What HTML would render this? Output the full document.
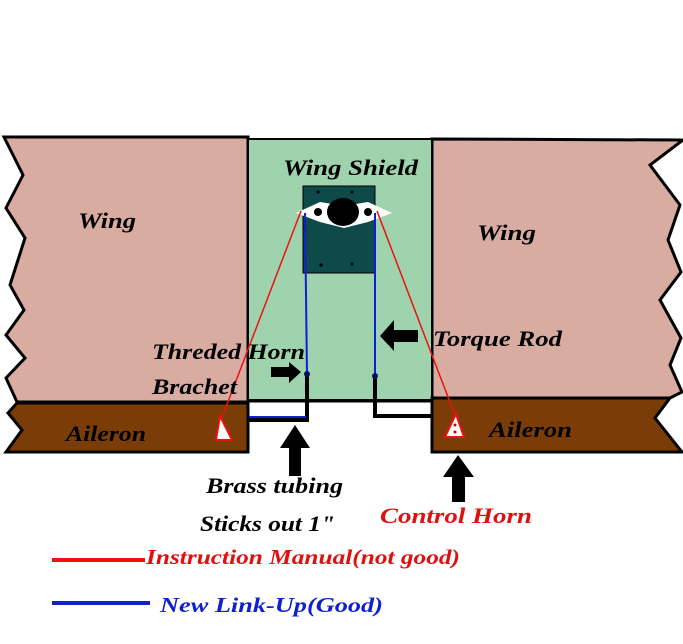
<!DOCTYPE html>
<html><head><style>
html,body{margin:0;padding:0;background:#fff;width:683px;height:644px;overflow:hidden}
text{font-family:"Liberation Serif",serif;font-style:italic;font-weight:bold}
</style></head><body>
<svg width="683" height="644" viewBox="0 0 683 644" xmlns="http://www.w3.org/2000/svg">
<polygon points="4,137 248,137 248,402 17,402 6,378 25,358 6,335 24,310 10,285 25,238 6,208 23,175" fill="#d9aca2" stroke="#000" stroke-width="3"/>
<polygon points="432,139 683,140 650,165 680,205 668,240 681,272 660,300 681,338 670,365 682,392 670,398 432,398" fill="#d9aca2" stroke="#000" stroke-width="3"/>
<rect x="248" y="139" width="184" height="261" fill="#9ed3ae" stroke="#000" stroke-width="2"/>
<rect x="248" y="400" width="184" height="20" fill="#fff"/>
<line x1="248" y1="401" x2="432" y2="401" stroke="#000" stroke-width="3"/>
<polygon points="17,403 248,403 248,452 6,452 22,430 8,413" fill="#7a3d08" stroke="#000" stroke-width="3"/>
<polygon points="432,398 670,398 655,418 682,452 432,452" fill="#7a3d08" stroke="#000" stroke-width="3"/>
<rect x="303" y="186" width="72" height="87" fill="#0e4a4a" stroke="#000" stroke-width="1"/>
<circle cx="318" cy="192" r="1.6" fill="#000"/><circle cx="352" cy="192" r="1.6" fill="#000"/>
<circle cx="321" cy="265" r="1.6" fill="#000"/><circle cx="352" cy="264" r="1.6" fill="#000"/>
<polygon points="296,213 320,202 344,206 368,202 392,213 368,222 344,228 320,222" fill="#fff"/>
<ellipse cx="343" cy="212" rx="16" ry="14" fill="#000"/>
<circle cx="318" cy="212" r="4" fill="#000"/><circle cx="368" cy="212" r="4" fill="#000"/>
<line x1="305" y1="213" x2="307" y2="375" stroke="#1020d0" stroke-width="2"/>
<line x1="375" y1="213" x2="375" y2="376" stroke="#1020d0" stroke-width="2"/>
<polyline points="307,375 307,420 249,420" fill="none" stroke="#000" stroke-width="4"/>
<line x1="249" y1="417" x2="306" y2="417" stroke="#1020d0" stroke-width="2"/>
<polyline points="375,376 375,416 432,416" fill="none" stroke="#000" stroke-width="4"/>
<circle cx="307" cy="374" r="3" fill="#001060"/><circle cx="375" cy="376" r="3" fill="#001060"/>
<line x1="301" y1="211" x2="221" y2="420" stroke="#f01010" stroke-width="1.5"/>
<line x1="377" y1="211" x2="456" y2="418" stroke="#f01010" stroke-width="1.5"/>
<polygon points="220,416 232,440 216,440" fill="#fff" stroke="#f01010" stroke-width="2"/>
<polygon points="456,414 464,437 445,437" fill="#fff" stroke="#f01010" stroke-width="2"/>
<circle cx="455" cy="425" r="1.5" fill="#c00"/><circle cx="455" cy="432" r="1.5" fill="#c00"/>
<polygon points="295,425 310,448 301,448 301,476 289,476 289,448 280,448" fill="#000"/>
<polygon points="458,455 474,477 465,477 465,502 452,502 452,477 443,477" fill="#000"/>
<polygon points="380,336 394,320 394,330 418,330 418,342 394,342 394,351" fill="#000"/>
<polygon points="301,372 289,362 289,367 271,367 271,377 289,377 289,383" fill="#000"/>
<text x="283" y="175" font-size="22" textLength="135" lengthAdjust="spacingAndGlyphs">Wing Shield</text>
<text x="78" y="228" font-size="22" textLength="58" lengthAdjust="spacingAndGlyphs">Wing</text>
<text x="477" y="240" font-size="22" textLength="59" lengthAdjust="spacingAndGlyphs">Wing</text>
<text x="152" y="359" font-size="22" textLength="153" lengthAdjust="spacingAndGlyphs">Threded Horn</text>
<text x="152" y="394" font-size="22" textLength="85" lengthAdjust="spacingAndGlyphs">Brachet</text>
<text x="433" y="346" font-size="22" textLength="129" lengthAdjust="spacingAndGlyphs">Torque Rod</text>
<text x="66" y="441" font-size="22" textLength="80" lengthAdjust="spacingAndGlyphs">Aileron</text>
<text x="489" y="437" font-size="22" textLength="83" lengthAdjust="spacingAndGlyphs">Aileron</text>
<text x="206" y="493" font-size="22" textLength="137" lengthAdjust="spacingAndGlyphs">Brass tubing</text>
<text x="200" y="531" font-size="22" textLength="135" lengthAdjust="spacingAndGlyphs">Sticks out 1"</text>
<text x="380" y="523" font-size="22" fill="#e01010" textLength="152" lengthAdjust="spacingAndGlyphs">Control  Horn</text>
<line x1="52" y1="560" x2="145" y2="560" stroke="#f01010" stroke-width="4"/>
<text x="146" y="564" font-size="21" fill="#e01010" textLength="314" lengthAdjust="spacingAndGlyphs">Instruction Manual(not good)</text>
<line x1="52" y1="603" x2="150" y2="603" stroke="#1020d0" stroke-width="4"/>
<text x="160" y="612" font-size="21" fill="#1020d0" textLength="223" lengthAdjust="spacingAndGlyphs">New Link-Up(Good)</text>
</svg>
</body></html>
